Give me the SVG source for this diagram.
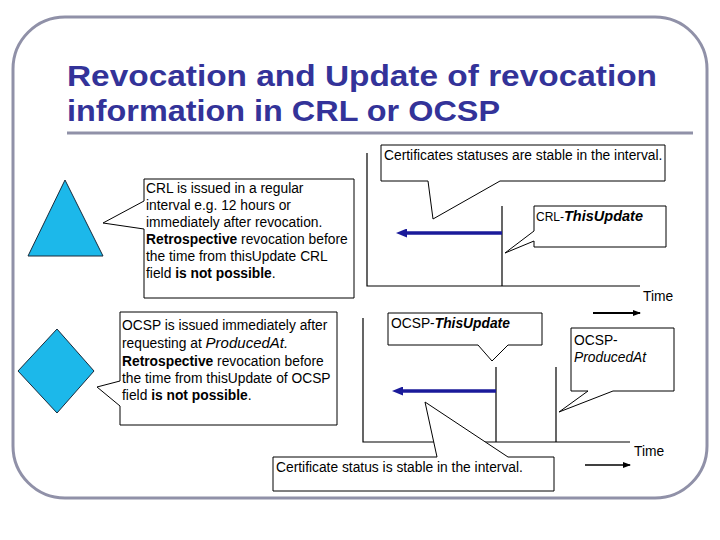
<svg xmlns="http://www.w3.org/2000/svg" width="720" height="540" viewBox="0 0 720 540">
<defs>
<style>
.t{font-family:"Liberation Sans",Arial,sans-serif;font-size:13.8px;fill:#000}
.title{font-family:"Liberation Sans",Arial,sans-serif;font-size:30px;font-weight:bold;fill:#333399}
.box{fill:#fff;stroke:#000;stroke-width:1}
.ax{stroke:#000;stroke-width:1.2;fill:none}
.blue{stroke:#1a1a9a;stroke-width:3.5;fill:none}
.shape{fill:#1CB8EA;stroke:#1a2a3a;stroke-width:1}
</style>
<marker id="bh" markerWidth="11" markerHeight="9" refX="1" refY="4.5" orient="auto" markerUnits="userSpaceOnUse">
<path d="M11,0 L0,4.5 L11,9 Z" fill="#1a1a9a" transform="rotate(180 5.5 4.5)"/>
</marker>
<marker id="kh" markerWidth="8" markerHeight="6" refX="7" refY="3" orient="auto" markerUnits="userSpaceOnUse">
<path d="M0,0 L8,3 L0,6 Z" fill="#000"/>
</marker>
</defs>
<rect width="720" height="540" fill="#fff"/>
<g id="frame">
<rect x="13" y="17" width="694" height="481" rx="52" ry="52" fill="none" stroke="#9091A8" stroke-width="3"/>
<line x1="67" y1="133" x2="693" y2="133" stroke="#9091A8" stroke-width="3"/>
</g>
<g id="title">
<text class="title" x="67" y="86" textLength="590" lengthAdjust="spacingAndGlyphs">Revocation and Update of revocation</text>
<text class="title" x="67" y="121" textLength="433" lengthAdjust="spacingAndGlyphs">information in CRL or OCSP</text>
</g>
<g id="shapes">
<polygon id="triangle" class="shape" points="65,180 103,256 28,256"/>
<polygon id="diamond" class="shape" points="57,329 94,371 57,413 18,371"/>
</g>
<g id="connectors">
<path class="ax" d="M367,153 V286 H640"/>
<line class="ax" x1="502" y1="206" x2="502" y2="286"/>
<line class="blue" x1="502" y1="233" x2="406" y2="233" marker-end="url(#bh)"/>
<line x1="593" y1="313" x2="640" y2="313" stroke="#000" stroke-width="2.2" marker-end="url(#kh)"/>
<path class="ax" d="M363,318 V442 H630"/>
<line class="ax" x1="496" y1="367" x2="496" y2="442"/>
<line class="ax" x1="556" y1="367" x2="556" y2="442"/>
<line class="blue" x1="496" y1="391" x2="402" y2="391" marker-end="url(#bh)"/>
<line x1="585" y1="465" x2="630" y2="465" stroke="#000" stroke-width="1.3" marker-end="url(#kh)"/>
</g>
<g id="crl-note">
<path class="box" d="M144,179 H354 V298 H144 V229 L103,223 L144,201 Z"/>
<text class="t" x="146" y="193">CRL is issued in a regular</text>
<text class="t" x="146" y="210">interval e.g. 12 hours or</text>
<text class="t" x="146" y="227">immediately after revocation.</text>
<text class="t" x="146" y="244"><tspan font-weight="bold">Retrospective</tspan> revocation before</text>
<text class="t" x="146" y="261">the time from thisUpdate CRL</text>
<text class="t" x="146" y="278">field <tspan font-weight="bold">is not possible</tspan>.</text>
</g>
<g id="ocsp-note">
<path class="box" d="M120,312 H337 V425 H120 V406 L97,387 L120,381 Z"/>
<text class="t" x="122" y="330">OCSP is issued immediately after</text>
<text class="t" x="122" y="348">requesting at <tspan font-style="italic" font-size="15px">ProducedAt.</tspan></text>
<text class="t" x="122" y="366"><tspan font-weight="bold">Retrospective</tspan> revocation before</text>
<text class="t" x="122" y="383">the time from thisUpdate of OCSP</text>
<text class="t" x="122" y="400">field <tspan font-weight="bold">is not possible</tspan>.</text>
</g>
<g id="crl-stable">
<path class="box" d="M381,145 H665 V181 H500 L433,219 L428,181 H381 Z"/>
<text class="t" x="384" y="160">Certificates statuses are stable in the interval.</text>
</g>
<g id="crl-thisupdate">
<path class="box" d="M534,206 H666 V247 H534 V241 L505,253 L534,231 Z"/>
<text class="t" x="536" y="221"><tspan font-size="12px">CRL-</tspan><tspan font-weight="bold" font-style="italic" font-size="14.5px">ThisUpdate</tspan></text>
</g>
<g id="time1">
<text class="t" x="643" y="301" font-size="15px">Time</text>
</g>
<g id="ocsp-thisupdate">
<path class="box" d="M388,313 H542 V345 H508 L492,361 L478,345 H388 Z"/>
<text class="t" x="391" y="328"><tspan>OCSP-</tspan><tspan font-weight="bold" font-style="italic">ThisUpdate</tspan></text>
</g>
<g id="ocsp-producedat">
<path class="box" d="M571,328 H674 V391 H613 L559,412 L588,391 H571 Z"/>
<text class="t" x="574" y="345">OCSP-</text>
<text class="t" x="574" y="362" font-style="italic">ProducedAt</text>
</g>
<g id="ocsp-stable">
<path class="box" d="M273,457 H437 L425,402 L508,457 H554 V491 H273 Z"/>
<text class="t" x="276" y="472">Certificate status is stable in the interval.</text>
</g>
<g id="time2">
<text class="t" x="634" y="456" font-size="15px">Time</text>
</g>
</svg>
